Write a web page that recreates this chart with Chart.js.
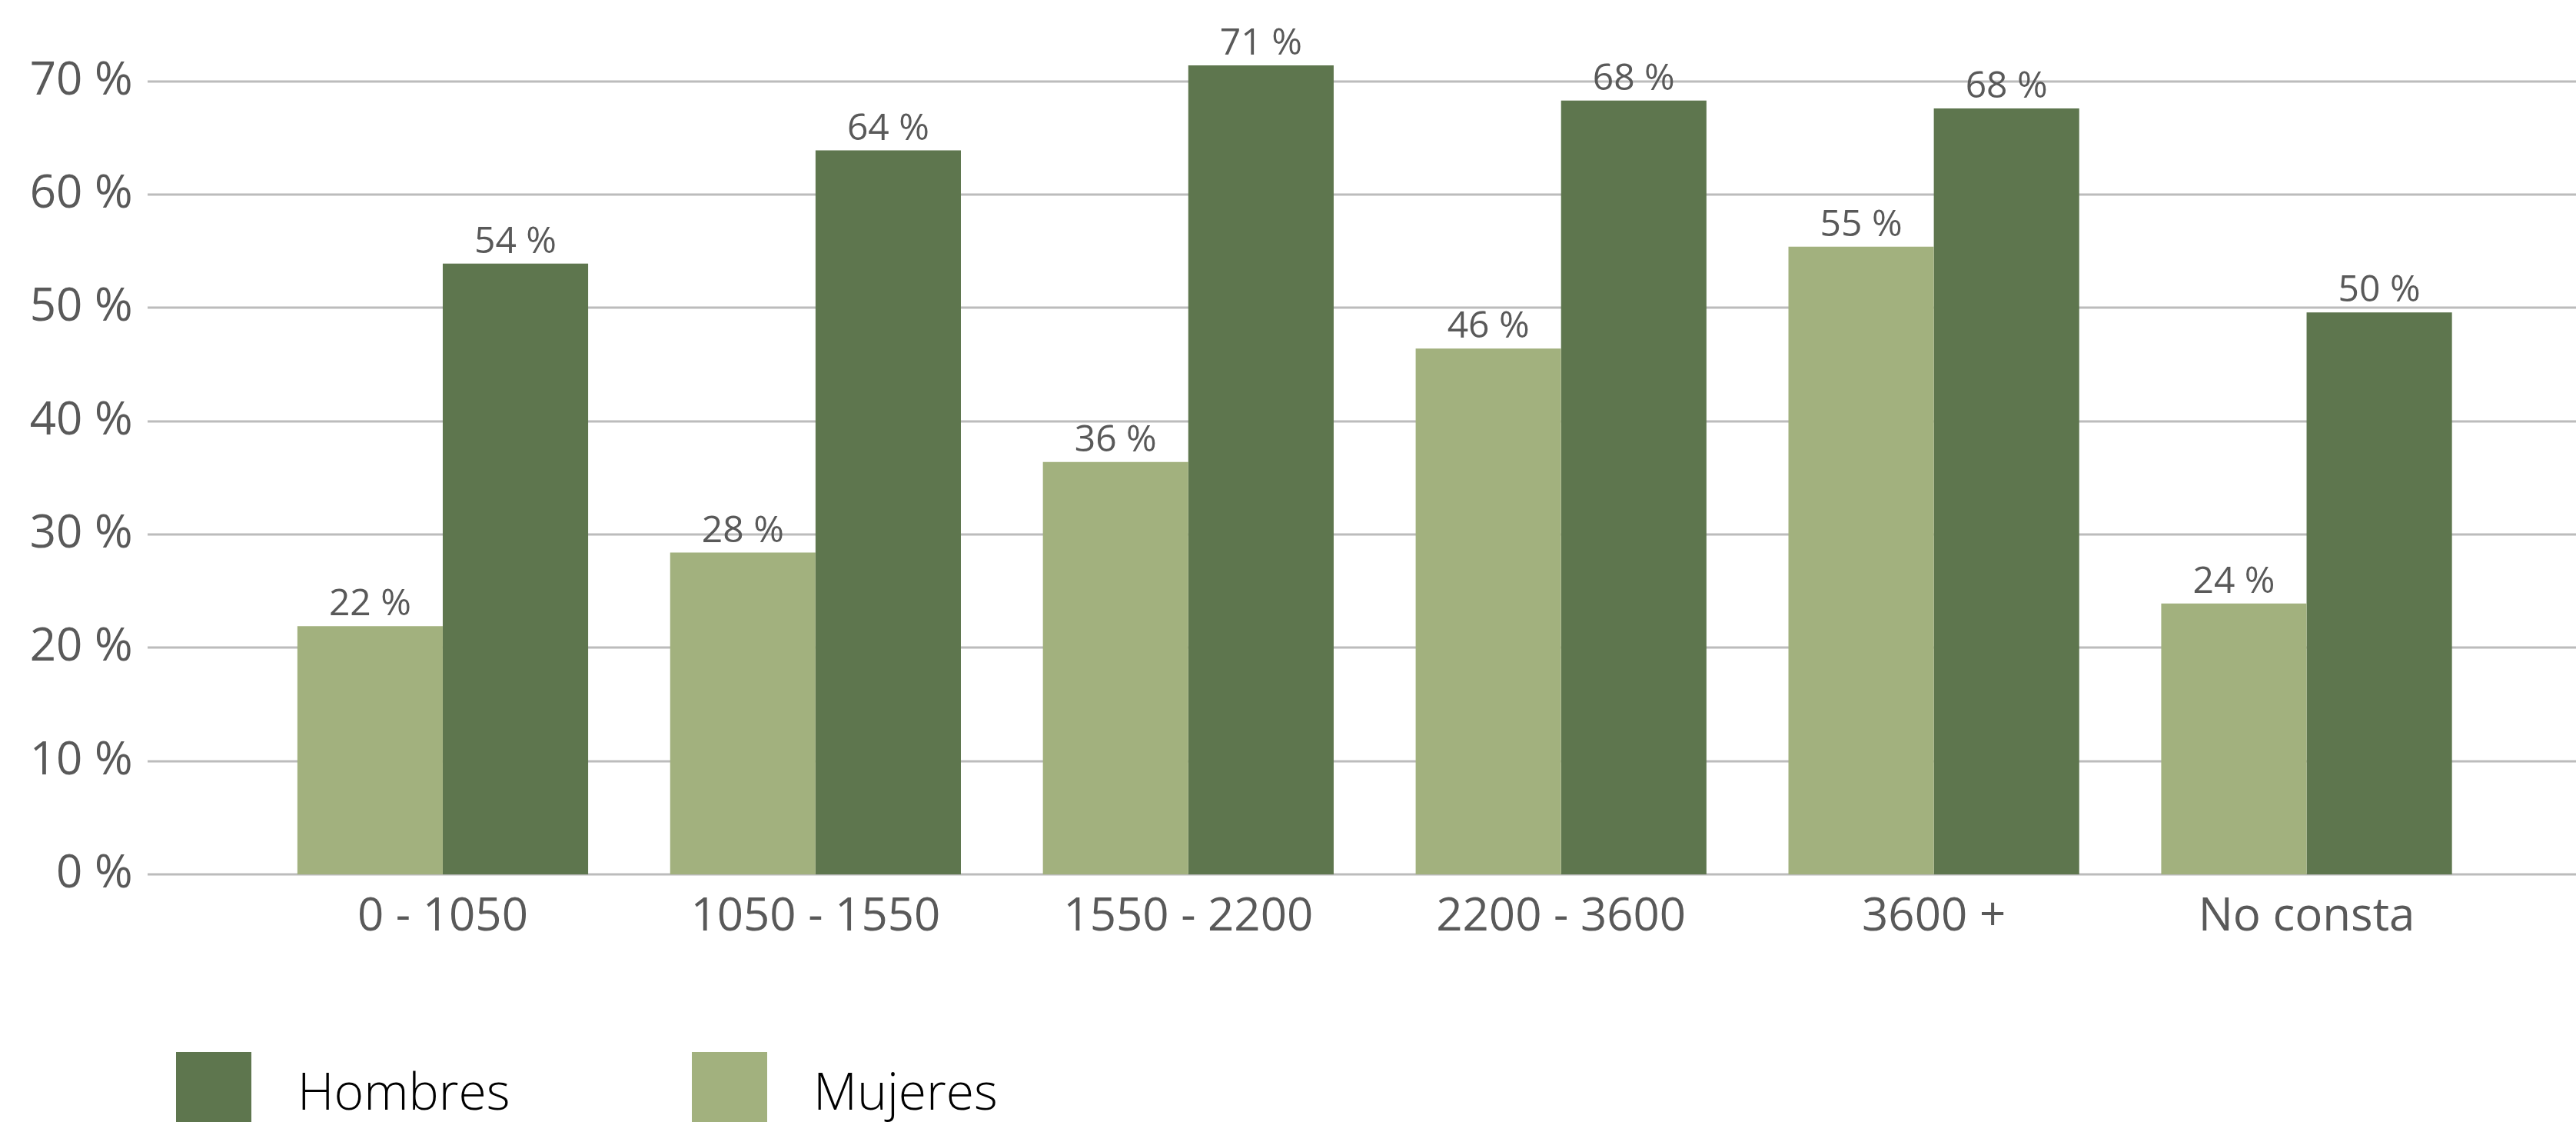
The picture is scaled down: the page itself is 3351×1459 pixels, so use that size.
<!DOCTYPE html>
<html>
<head>
<meta charset="utf-8">
<script src="https://cdn.jsdelivr.net/npm/chart.js@4/dist/chart.umd.min.js"></script>
<style>
  html, body { margin: 0; padding: 0; background: #fff; }
  #wrap { width: 3351px; height: 1459px; }
</style>
</head>
<body>
<div id="wrap"><canvas id="barChart"></canvas></div>
<script>
const categories = ['0 - 1050', '1050 - 1550', '1550 - 2200', '2200 - 3600', '3600 +', 'No consta'];
const mujeres = [21.9, 28.4, 36.4, 46.4, 55.4, 23.9];
const hombres = [53.9, 63.9, 71.4, 68.3, 67.6, 49.6];
const yTicks = [0, 10, 20, 30, 40, 50, 60, 70];

const textColor = '#595959';
const gridColor = '#bcbcbc';
const fontFamily = "'Open Sans', 'Noto Sans', sans-serif";

// grid lines run further left than the bars, like the original
const gridLinesPlugin = {
    id: 'gridLines',
    beforeDatasetsDraw(chart) {
        const ctx = chart.ctx;
        const y = chart.scales.y;
        ctx.save();
        ctx.strokeStyle = gridColor;
        ctx.lineWidth = 3;
        y.ticks.forEach(t => {
            const py = Math.round(y.getPixelForValue(t.value));
            ctx.beginPath();
            ctx.moveTo(192, py);
            ctx.lineTo(chart.width, py);
            ctx.stroke();
        });
        ctx.restore();
    }
};

const valueLabelsPlugin = {
    id: 'valueLabels',
    afterDatasetsDraw(chart) {
        const ctx = chart.ctx;
        ctx.save();
        ctx.fillStyle = textColor;
        ctx.font = '48px ' + fontFamily;
        ctx.textAlign = 'center';
        ctx.textBaseline = 'alphabetic';
        chart.data.datasets.forEach((ds, i) => {
            chart.getDatasetMeta(i).data.forEach((bar, j) => {
                ctx.fillText(Math.round(ds.data[j]) + ' %', bar.x, bar.y - 14);
            });
        });
        ctx.restore();
    }
};

const legendPlugin = {
    id: 'bottomLegend',
    afterDraw(chart) {
        const ctx = chart.ctx;
        const items = chart.data.datasets.slice().reverse();
        const starts = [229, 900];
        ctx.save();
        ctx.font = '300 66px ' + fontFamily;
        ctx.textBaseline = 'alphabetic';
        ctx.textAlign = 'left';
        items.forEach((ds, i) => {
            ctx.fillStyle = ds.backgroundColor;
            ctx.fillRect(starts[i], 1368, 98, 98);
            ctx.fillStyle = '#000';
            ctx.fillText(ds.label, starts[i] + 158, 1443);
        });
        ctx.restore();
    }
};

const ctx = document.getElementById('barChart').getContext('2d');
const barChart = new Chart(ctx, {
    type: 'bar',
    data: {
        labels: categories,
        datasets: [{
            label: 'Mujeres',
            data: mujeres,
            backgroundColor: '#a2b17e',
            categoryPercentage: 0.78,
            barPercentage: 1.0
        },
        {
            label: 'Hombres',
            data: hombres,
            backgroundColor: '#5e764e',
            categoryPercentage: 0.78,
            barPercentage: 1.0
        }]
    },
    options: {
        responsive: true,
        maintainAspectRatio: false,
        animation: false,
        layout: {
            padding: { top: 32, right: 108, bottom: 222, left: 0 }
        },
        plugins: {
            legend: { display: false },
            tooltip: { enabled: false }
        },
        scales: {
            y: {
                min: 0,
                max: 75,
                afterBuildTicks: (axis) => {
                    axis.ticks = yTicks.map(v => ({ value: v }));
                },
                afterFit: (axis) => {
                    axis.width = 333.5;
                    axis.paddingTop = 0;
                    axis.paddingBottom = 0;
                },
                grid: { display: false, drawTicks: false },
                border: { display: false },
                ticks: {
                    padding: 161,
                    color: textColor,
                    font: { size: 60, family: fontFamily },
                    callback: (v) => v + ' %'
                }
            },
            x: {
                afterFit: (axis) => { axis.height = 100; },
                grid: { display: false, drawTicks: false },
                border: { display: false },
                ticks: {
                    padding: 20,
                    color: textColor,
                    font: { size: 60, family: fontFamily }
                }
            }
        }
    },
    plugins: [gridLinesPlugin, valueLabelsPlugin, legendPlugin]
});
</script>
</body>
</html>
